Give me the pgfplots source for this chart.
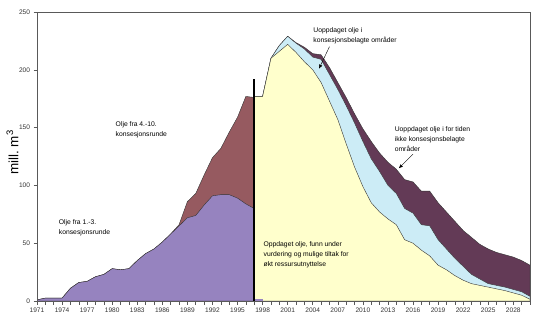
\documentclass[border=0pt]{standalone}
\usepackage{pgfplots}
\pgfplotsset{compat=1.18}
\usetikzlibrary{arrows.meta}
\usepackage{fontspec}
\setmainfont{Liberation Sans}
\definecolor{pA}{RGB}{150,131,191}
\definecolor{pB}{RGB}{150,90,96}
\definecolor{yel}{RGB}{255,255,204}
\definecolor{lblue}{RGB}{204,236,246}
\definecolor{dpurp}{RGB}{99,58,86}
\begin{document}
\begin{tikzpicture}
\begin{axis}[
  width=493bp, height=289bp, scale only axis,
  xmin=1971, xmax=2030, ymin=0, ymax=250,
  axis on top,
  axis line style={black!65, line width=0.6bp},
  ytick={0,50,...,250},
  xtick={1971,1974,...,2028},
  minor xtick={1971,...,2030},
  xtick pos=left, ytick pos=left,
  tick align=outside,
  major tick length=3.5bp, minor tick length=3.5bp,
  tick style={black!65, line width=0.5bp},
  /pgf/number format/assume math mode=true,
  x tick label style={/pgf/number format/1000 sep={}},
  tick label style={font=\fontsize{6.6}{7}\selectfont, text=black!80},
  ylabel={mill.\ m\textsuperscript{3}},
  ylabel style={font=\fontsize{13.5}{15}\selectfont, at={(axis description cs:-0.0497,0.514)}, anchor=center, rotate=0},
]
% historical: total (4.-10.) then 1.-3.
\addplot[fill=pB, draw=black!80, line width=0.4bp] coordinates {
(1971,1) (1972,2.5) (1973,2.5) (1974,2.5) (1975,11) (1976,16) (1977,17) (1978,21)
(1979,23) (1980,28) (1981,27) (1982,28) (1983,35) (1984,41) (1985,45) (1986,51)
(1987,58) (1988,66) (1989,86) (1990,93) (1991,109) (1992,124) (1993,132) (1994,146)
(1995,159) (1996,177) (1997,176)} \closedcycle;
\addplot[fill=pA, draw=black!80, line width=0.4bp] coordinates {
(1971,1) (1972,2.5) (1973,2.5) (1974,2.5) (1975,11) (1976,16) (1977,17) (1978,21)
(1979,23) (1980,28) (1981,27) (1982,28) (1983,35) (1984,41) (1985,45) (1986,51)
(1987,58) (1988,65) (1989,72) (1990,74) (1991,83) (1992,91) (1993,92) (1994,92)
(1995,89) (1996,84) (1997,80)} \closedcycle;
% forecast: dark purple total, light blue, yellow
\addplot[fill=dpurp, draw=black!80, line width=0.4bp] coordinates {
(1997,177) (1998,177) (1999,210) (2000,221) (2001,229) (2002,223.5) (2003,219.5)
(2004,214) (2005,213) (2006,202) (2007,189) (2008,176) (2009,162) (2010,149)
(2011,138) (2012,128) (2013,120) (2014,114) (2015,105) (2016,103) (2017,95)
(2018,95) (2019,85) (2020,77) (2021,69) (2022,61) (2023,55) (2024,49) (2025,45)
(2026,42) (2027,40) (2028,38) (2029,35) (2030,31)} \closedcycle;
\addplot[fill=lblue, draw=black!80, line width=0.4bp] coordinates {
(1997,177) (1998,177) (1999,210) (2000,221) (2001,229) (2002,223) (2003,218)
(2004,211) (2005,209) (2006,196) (2007,183) (2008,169) (2009,154) (2010,138)
(2011,123) (2012,112) (2013,100) (2014,93) (2015,80) (2016,76) (2017,66)
(2018,65) (2019,53) (2020,45) (2021,37) (2022,30) (2023,23) (2024,19) (2025,15)
(2026,13.5) (2027,12) (2028,10) (2029,8) (2030,4)} \closedcycle;
\addplot[fill=yel, draw=black!80, line width=0.4bp] coordinates {
(1997,177) (1998,177) (1999,210) (2000,216) (2001,222) (2002,215) (2003,207)
(2004,200) (2005,189) (2006,173) (2007,157) (2008,136) (2009,116) (2010,99)
(2011,85) (2012,77) (2013,71) (2014,66) (2015,53) (2016,50) (2017,44)
(2018,39) (2019,31) (2020,27) (2021,22) (2022,18) (2023,15) (2024,13.5) (2025,12)
(2026,10.5) (2027,9) (2028,7) (2029,5) (2030,1.5)} \closedcycle;
\addplot[fill=pA, draw=none] coordinates {(1997,2) (1998,2)} \closedcycle;
% divider line
\addplot[black, line width=1.8bp] coordinates {(1997,0) (1997,192)};
% annotations
\begin{scope}[every node/.style={font=\fontsize{6.8}{10}\selectfont, align=left, anchor=west, inner sep=0pt}]
\node at (axis cs:1973.6,63.6) {Olje fra 1.-3.\\konsesjonsrunde};
\node at (axis cs:1980.4,148) {Olje fra 4.-10.\\konsesjonsrunde};
\node at (axis cs:1998.1,40) {Oppdaget olje, funn under\\vurdering og mulige tiltak for\\økt ressursutnyttelse};
\node at (axis cs:2004.05,229.4) {Uoppdaget olje i\\konsesjonsbelagte områder};
\node at (axis cs:2013.8,140) {Uoppdaget olje i for tiden\\ikke konsesjonsbelagte\\områder};
\end{scope}
\draw[-{Latex[length=4bp,width=3.5bp]}, line width=0.4bp] (axis cs:2006,220) -- (axis cs:2004.75,201);
\draw[-{Latex[length=4bp,width=3.5bp]}, line width=0.4bp] (axis cs:2016,127) -- (axis cs:2014.3,114.8);
\end{axis}
\pgfresetboundingbox
\useasboundingbox ([shift={(-37bp,-26bp)}]current axis.south west) rectangle ([shift={(12bp,12bp)}]current axis.north east);
\end{tikzpicture}
\end{document}
